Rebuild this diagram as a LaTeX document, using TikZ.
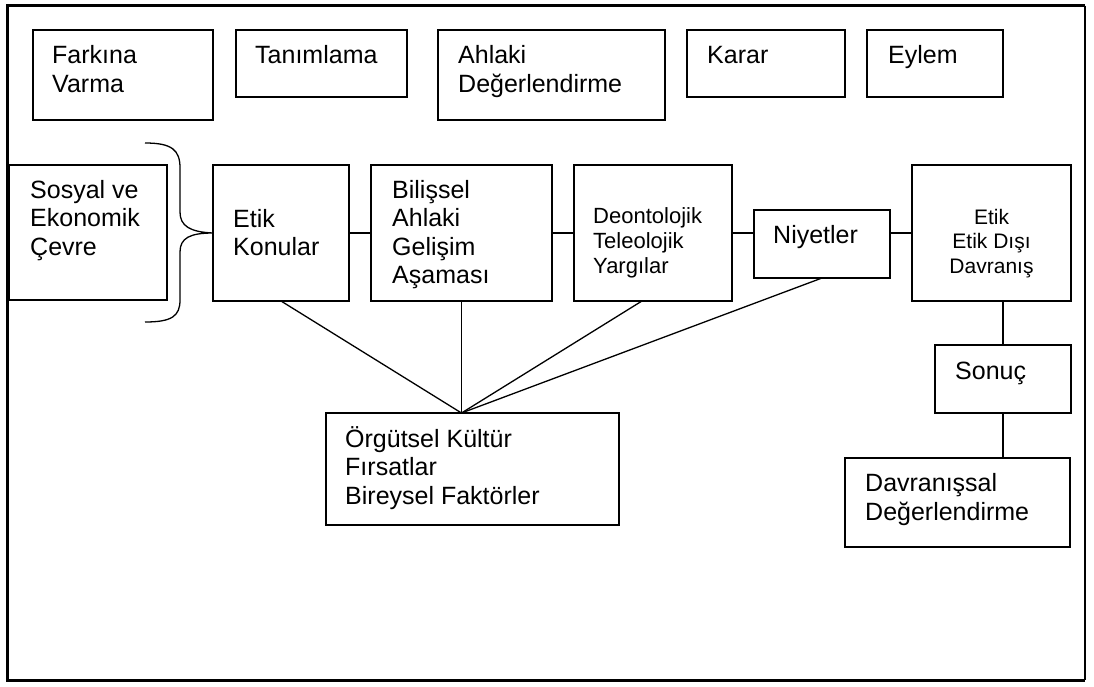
\documentclass[tikz,border=0pt]{standalone}
\usepackage{fontspec}
\setmainfont{Liberation Sans}
\usetikzlibrary{calc}
\begin{document}
\begin{tikzpicture}[x=1pt,y=-1pt,
  box/.style={draw, line width=1.3pt, inner sep=0pt, outer sep=0pt, anchor=north west},
  % text nodes are placed by the baseline of their last line
  txt/.style={anchor=base west, inner sep=0pt, align=left, font=\fontsize{25}{28.5}\selectfont},
  smalltxt/.style={anchor=base west, inner sep=0pt, align=left, font=\fontsize{22}{25}\selectfont},
  centertxt/.style={anchor=base, inner sep=0pt, align=center, font=\fontsize{21}{24.5}\selectfont},
  link/.style={line width=1.3pt}]
\useasboundingbox (0,0) rectangle (1094,686);

% outer frame
\draw[line width=3pt] (1085,5.5) -- (7.5,5.5) -- (7.5,680) -- (1085,680);
\draw[line width=1.5pt] (1085,5.5) -- (1085,680);

% top row of stages
\node[box, minimum width=180, minimum height=90] (fv) at (33,30) {};
\node[box, minimum width=171, minimum height=67] (tn) at (236,30) {};
\node[box, minimum width=227, minimum height=90] (ad) at (438,30) {};
\node[box, minimum width=158, minimum height=67] (kr) at (687,30) {};
\node[box, minimum width=136, minimum height=67] (ey) at (867,30) {};
\node[txt] (fv-t) at (52,92) {Farkına\\Varma};
\node[txt] (tn-t) at (255,63) {Tanımlama};
\node[txt] (ad-t) at (458,92) {Ahlaki\\Değerlendirme};
\node[txt] (kr-t) at (707,63) {Karar};
\node[txt] (ey-t) at (888,63) {Eylem};

% process row
\node[box, minimum width=158, minimum height=135] (sec) at (9,165) {};
\node[box, minimum width=136, minimum height=136] (ek) at (213,165) {};
\node[box, minimum width=181, minimum height=136] (bil) at (371,165) {};
\node[box, minimum width=158, minimum height=136] (deo) at (574,165) {};
\node[box, minimum width=136, minimum height=68] (niy) at (754,210) {};
\node[box, minimum width=159, minimum height=136] (ed) at (912,165) {};
\node[txt] (sec-t) at (30,255) {Sosyal ve\\Ekonomik\\Çevre};
\node[txt] (ek-t) at (233,255.5) {Etik\\Konular};
\node[txt] (bil-t) at (392,283.5) {Bilişsel\\Ahlaki\\Gelişim\\Aşaması};
\node[smalltxt] (deo-t) at (593,273) {Deontolojik\\Teleolojik\\Yargılar};
\node[txt] (niy-t) at (773,243) {Niyetler};
\node[centertxt] (ed-t) at (991.5,273) {Etik\\Etik Dışı\\Davranış};

% lower boxes
\node[box, minimum width=136, minimum height=68] (son) at (935,345) {};
\node[box, minimum width=225, minimum height=89] (dav) at (845,458) {};
\node[box, minimum width=293, minimum height=112] (org) at (326,413) {};
\node[txt] (son-t) at (955,379) {Sonuç};
\node[txt] (dav-t) at (865,520) {Davranışsal\\Değerlendirme};
\node[txt] (org-t) at (345,504) {Örgütsel Kültür\\Fırsatlar\\Bireysel Faktörler};

% chain connectors
\draw[link] (ek.east) -- (bil.west);
\draw[link] (bil.east) -- (deo.west);
\draw[link] (deo.east) -- (deo.east -| niy.west);
\draw[link] (niy.east |- ed.west) -- (ed.west);
\draw[link] (son.north) -- (son.north |- ed.south);
\draw[link] (son.south) -- (son.south |- dav.north);

% fan of influences into the organisational factors
\coordinate (hub) at (bil.south |- org.north);
\draw[link] (ek.south) -- (hub);
\draw[link] (bil.south) -- (hub);
\draw[link] ($(deo.south west)!0.43!(deo.south east)$) -- (hub);
\draw[link] (niy.south) -- (hub);

% brace from the environment box to the issues box
\coordinate (brtop) at (145,143);
\coordinate (brbot) at (145,322);
\draw[link] (brtop) .. controls (172,143) and (180,150) .. (180,168)
  -- (180,212) .. controls (180,226) and (190,232) .. (ek.west)
  .. controls (190,233) and (180,238) .. (180,252)
  -- (180,300) .. controls (180,316) and (172,322) .. (brbot);
\end{tikzpicture}
\end{document}
